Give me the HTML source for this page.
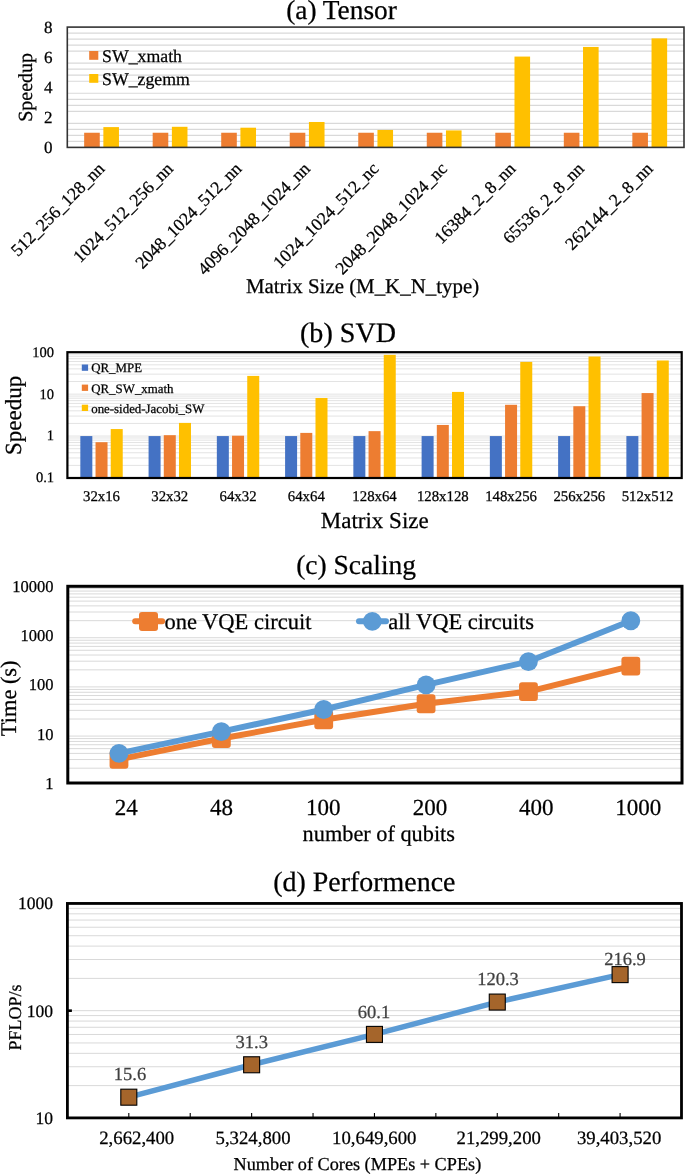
<!DOCTYPE html>
<html><head><meta charset="utf-8"><style>
html,body{margin:0;padding:0;background:#fff;overflow:hidden;width:685px;height:1175px;}
svg{display:block;will-change:transform;}
text{font-family:"Liberation Serif", serif;text-rendering:geometricPrecision;stroke-width:0.25px;}
</style></head><body>
<svg width="685" height="1175" viewBox="0 0 685 1175">
<rect width="685" height="1175" fill="#fff"/>
<line x1="67.30" y1="141.38" x2="684.00" y2="141.38" stroke="#D9D9D9" stroke-width="1.2" />
<line x1="67.30" y1="135.37" x2="684.00" y2="135.37" stroke="#D9D9D9" stroke-width="1.2" />
<line x1="67.30" y1="129.35" x2="684.00" y2="129.35" stroke="#D9D9D9" stroke-width="1.2" />
<line x1="67.30" y1="123.34" x2="684.00" y2="123.34" stroke="#D9D9D9" stroke-width="1.2" />
<line x1="67.30" y1="111.31" x2="684.00" y2="111.31" stroke="#D9D9D9" stroke-width="1.2" />
<line x1="67.30" y1="105.29" x2="684.00" y2="105.29" stroke="#D9D9D9" stroke-width="1.2" />
<line x1="67.30" y1="99.28" x2="684.00" y2="99.28" stroke="#D9D9D9" stroke-width="1.2" />
<line x1="67.30" y1="93.27" x2="684.00" y2="93.27" stroke="#D9D9D9" stroke-width="1.2" />
<line x1="67.30" y1="81.23" x2="684.00" y2="81.23" stroke="#D9D9D9" stroke-width="1.2" />
<line x1="67.30" y1="75.22" x2="684.00" y2="75.22" stroke="#D9D9D9" stroke-width="1.2" />
<line x1="67.30" y1="69.20" x2="684.00" y2="69.20" stroke="#D9D9D9" stroke-width="1.2" />
<line x1="67.30" y1="63.19" x2="684.00" y2="63.19" stroke="#D9D9D9" stroke-width="1.2" />
<line x1="67.30" y1="51.16" x2="684.00" y2="51.16" stroke="#D9D9D9" stroke-width="1.2" />
<line x1="67.30" y1="45.14" x2="684.00" y2="45.14" stroke="#D9D9D9" stroke-width="1.2" />
<line x1="67.30" y1="39.13" x2="684.00" y2="39.13" stroke="#D9D9D9" stroke-width="1.2" />
<line x1="67.30" y1="33.11" x2="684.00" y2="33.11" stroke="#D9D9D9" stroke-width="1.2" />
<rect x="84.16" y="132.74" width="15.60" height="14.66" fill="#ED7D31" />
<rect x="103.36" y="127.10" width="15.60" height="20.30" fill="#FFC000" />
<rect x="152.68" y="132.74" width="15.60" height="14.66" fill="#ED7D31" />
<rect x="171.88" y="126.80" width="15.60" height="20.60" fill="#FFC000" />
<rect x="221.21" y="132.74" width="15.60" height="14.66" fill="#ED7D31" />
<rect x="240.41" y="127.70" width="15.60" height="19.70" fill="#FFC000" />
<rect x="289.73" y="132.74" width="15.60" height="14.66" fill="#ED7D31" />
<rect x="308.93" y="121.99" width="15.60" height="25.41" fill="#FFC000" />
<rect x="358.25" y="132.74" width="15.60" height="14.66" fill="#ED7D31" />
<rect x="377.45" y="129.96" width="15.60" height="17.44" fill="#FFC000" />
<rect x="426.77" y="132.74" width="15.60" height="14.66" fill="#ED7D31" />
<rect x="445.97" y="130.41" width="15.60" height="16.99" fill="#FFC000" />
<rect x="495.29" y="132.74" width="15.60" height="14.66" fill="#ED7D31" />
<rect x="514.49" y="56.57" width="15.60" height="90.83" fill="#FFC000" />
<rect x="563.82" y="132.74" width="15.60" height="14.66" fill="#ED7D31" />
<rect x="583.02" y="46.95" width="15.60" height="100.45" fill="#FFC000" />
<rect x="632.34" y="132.74" width="15.60" height="14.66" fill="#ED7D31" />
<rect x="651.54" y="38.38" width="15.60" height="109.02" fill="#FFC000" />
<rect x="67.30" y="27.10" width="616.70" height="120.30" fill="none" stroke="#333" stroke-width="1.6"/>
<text x="52.50" y="153.40" font-size="17" text-anchor="end" fill="#000" stroke="#000" >0</text>
<text x="52.50" y="123.33" font-size="17" text-anchor="end" fill="#000" stroke="#000" >2</text>
<text x="52.50" y="93.25" font-size="17" text-anchor="end" fill="#000" stroke="#000" >4</text>
<text x="52.50" y="63.17" font-size="17" text-anchor="end" fill="#000" stroke="#000" >6</text>
<text x="52.50" y="33.10" font-size="17" text-anchor="end" fill="#000" stroke="#000" >8</text>
<text x="0.00" y="0.00" font-size="20" text-anchor="middle" fill="#000" stroke="#000" transform="translate(31.6,87.4) rotate(-90)">Speedup</text>
<rect x="89.20" y="51.00" width="9.10" height="8.80" fill="#ED7D31" />
<text x="102.00" y="61.50" font-size="17.8" text-anchor="start" fill="#000" stroke="#000" >SW_xmath</text>
<rect x="89.20" y="74.00" width="9.10" height="8.80" fill="#FFC000" />
<text x="102.00" y="84.50" font-size="17.8" text-anchor="start" fill="#000" stroke="#000" >SW_zgemm</text>
<text x="0.00" y="0.00" font-size="17.7" text-anchor="end" fill="#000" stroke="#000" transform="translate(105.46,169.8) rotate(-45)">512_256_128_nn</text>
<text x="0.00" y="0.00" font-size="17.7" text-anchor="end" fill="#000" stroke="#000" transform="translate(173.98,169.8) rotate(-45)">1024_512_256_nn</text>
<text x="0.00" y="0.00" font-size="17.7" text-anchor="end" fill="#000" stroke="#000" transform="translate(242.51,169.8) rotate(-45)">2048_1024_512_nn</text>
<text x="0.00" y="0.00" font-size="17.7" text-anchor="end" fill="#000" stroke="#000" transform="translate(311.03,169.8) rotate(-45)">4096_2048_1024_nn</text>
<text x="0.00" y="0.00" font-size="17.7" text-anchor="end" fill="#000" stroke="#000" transform="translate(379.55,169.8) rotate(-45)">1024_1024_512_nc</text>
<text x="0.00" y="0.00" font-size="17.7" text-anchor="end" fill="#000" stroke="#000" transform="translate(448.07,169.8) rotate(-45)">2048_2048_1024_nc</text>
<text x="0.00" y="0.00" font-size="17.7" text-anchor="end" fill="#000" stroke="#000" transform="translate(516.59,169.8) rotate(-45)">16384_2_8_nn</text>
<text x="0.00" y="0.00" font-size="17.7" text-anchor="end" fill="#000" stroke="#000" transform="translate(585.12,169.8) rotate(-45)">65536_2_8_nn</text>
<text x="0.00" y="0.00" font-size="17.7" text-anchor="end" fill="#000" stroke="#000" transform="translate(653.64,169.8) rotate(-45)">262144_2_8_nn</text>
<text x="362.50" y="293.10" font-size="20.9" text-anchor="middle" fill="#000" stroke="#000" >Matrix Size (M_K_N_type)</text>
<text x="341.50" y="18.80" font-size="27.35" text-anchor="middle" fill="#000" stroke="#000" >(a) Tensor</text>
<line x1="67.40" y1="465.38" x2="681.70" y2="465.38" stroke="#E0E0E0" stroke-width="0.9" />
<line x1="67.40" y1="457.99" x2="681.70" y2="457.99" stroke="#E0E0E0" stroke-width="0.9" />
<line x1="67.40" y1="452.75" x2="681.70" y2="452.75" stroke="#E0E0E0" stroke-width="0.9" />
<line x1="67.40" y1="448.69" x2="681.70" y2="448.69" stroke="#E0E0E0" stroke-width="0.9" />
<line x1="67.40" y1="445.37" x2="681.70" y2="445.37" stroke="#E0E0E0" stroke-width="0.9" />
<line x1="67.40" y1="442.56" x2="681.70" y2="442.56" stroke="#E0E0E0" stroke-width="0.9" />
<line x1="67.40" y1="440.13" x2="681.70" y2="440.13" stroke="#E0E0E0" stroke-width="0.9" />
<line x1="67.40" y1="437.99" x2="681.70" y2="437.99" stroke="#E0E0E0" stroke-width="0.9" />
<line x1="67.40" y1="436.07" x2="681.70" y2="436.07" stroke="#E0E0E0" stroke-width="0.9" />
<line x1="67.40" y1="423.44" x2="681.70" y2="423.44" stroke="#E0E0E0" stroke-width="0.9" />
<line x1="67.40" y1="416.06" x2="681.70" y2="416.06" stroke="#E0E0E0" stroke-width="0.9" />
<line x1="67.40" y1="410.82" x2="681.70" y2="410.82" stroke="#E0E0E0" stroke-width="0.9" />
<line x1="67.40" y1="406.76" x2="681.70" y2="406.76" stroke="#E0E0E0" stroke-width="0.9" />
<line x1="67.40" y1="403.44" x2="681.70" y2="403.44" stroke="#E0E0E0" stroke-width="0.9" />
<line x1="67.40" y1="400.63" x2="681.70" y2="400.63" stroke="#E0E0E0" stroke-width="0.9" />
<line x1="67.40" y1="398.20" x2="681.70" y2="398.20" stroke="#E0E0E0" stroke-width="0.9" />
<line x1="67.40" y1="396.05" x2="681.70" y2="396.05" stroke="#E0E0E0" stroke-width="0.9" />
<line x1="67.40" y1="394.13" x2="681.70" y2="394.13" stroke="#E0E0E0" stroke-width="0.9" />
<line x1="67.40" y1="381.51" x2="681.70" y2="381.51" stroke="#E0E0E0" stroke-width="0.9" />
<line x1="67.40" y1="374.13" x2="681.70" y2="374.13" stroke="#E0E0E0" stroke-width="0.9" />
<line x1="67.40" y1="368.89" x2="681.70" y2="368.89" stroke="#E0E0E0" stroke-width="0.9" />
<line x1="67.40" y1="364.82" x2="681.70" y2="364.82" stroke="#E0E0E0" stroke-width="0.9" />
<line x1="67.40" y1="361.50" x2="681.70" y2="361.50" stroke="#E0E0E0" stroke-width="0.9" />
<line x1="67.40" y1="358.70" x2="681.70" y2="358.70" stroke="#E0E0E0" stroke-width="0.9" />
<line x1="67.40" y1="356.26" x2="681.70" y2="356.26" stroke="#E0E0E0" stroke-width="0.9" />
<line x1="67.40" y1="354.12" x2="681.70" y2="354.12" stroke="#E0E0E0" stroke-width="0.9" />
<rect x="80.33" y="436.07" width="12.00" height="41.93" fill="#4472C4" />
<rect x="95.53" y="442.20" width="12.00" height="35.80" fill="#ED7D31" />
<rect x="110.73" y="429.05" width="12.00" height="48.95" fill="#FFC000" />
<rect x="148.58" y="436.07" width="12.00" height="41.93" fill="#4472C4" />
<rect x="163.78" y="435.18" width="12.00" height="42.82" fill="#ED7D31" />
<rect x="178.98" y="422.91" width="12.00" height="55.09" fill="#FFC000" />
<rect x="216.84" y="436.07" width="12.00" height="41.93" fill="#4472C4" />
<rect x="232.04" y="435.71" width="12.00" height="42.29" fill="#ED7D31" />
<rect x="247.24" y="375.91" width="12.00" height="102.09" fill="#FFC000" />
<rect x="285.09" y="436.07" width="12.00" height="41.93" fill="#4472C4" />
<rect x="300.29" y="432.90" width="12.00" height="45.10" fill="#ED7D31" />
<rect x="315.49" y="397.99" width="12.00" height="80.01" fill="#FFC000" />
<rect x="353.35" y="436.07" width="12.00" height="41.93" fill="#4472C4" />
<rect x="368.55" y="431.15" width="12.00" height="46.85" fill="#ED7D31" />
<rect x="383.75" y="354.88" width="12.00" height="123.12" fill="#FFC000" />
<rect x="421.61" y="436.07" width="12.00" height="41.93" fill="#4472C4" />
<rect x="436.81" y="424.96" width="12.00" height="53.04" fill="#ED7D31" />
<rect x="452.01" y="391.91" width="12.00" height="86.09" fill="#FFC000" />
<rect x="489.86" y="436.07" width="12.00" height="41.93" fill="#4472C4" />
<rect x="505.06" y="404.79" width="12.00" height="73.21" fill="#ED7D31" />
<rect x="520.26" y="361.90" width="12.00" height="116.10" fill="#FFC000" />
<rect x="558.12" y="436.07" width="12.00" height="41.93" fill="#4472C4" />
<rect x="573.32" y="406.22" width="12.00" height="71.78" fill="#ED7D31" />
<rect x="588.52" y="356.49" width="12.00" height="121.51" fill="#FFC000" />
<rect x="626.37" y="436.07" width="12.00" height="41.93" fill="#4472C4" />
<rect x="641.57" y="393.07" width="12.00" height="84.93" fill="#ED7D31" />
<rect x="656.77" y="360.50" width="12.00" height="117.50" fill="#FFC000" />
<rect x="67.40" y="352.20" width="614.30" height="125.80" fill="none" stroke="#000" stroke-width="2.2"/>
<text x="54.00" y="356.60" font-size="14.5" text-anchor="end" fill="#000" stroke="#000" >100</text>
<text x="54.00" y="398.53" font-size="14.5" text-anchor="end" fill="#000" stroke="#000" >10</text>
<text x="54.00" y="440.47" font-size="14.5" text-anchor="end" fill="#000" stroke="#000" >1</text>
<text x="54.00" y="482.40" font-size="14.5" text-anchor="end" fill="#000" stroke="#000" >0.1</text>
<text x="0.00" y="0.00" font-size="23" text-anchor="middle" fill="#000" stroke="#000" transform="translate(20.6,415.4) rotate(-90)">Speedup</text>
<rect x="81.80" y="364.50" width="6.30" height="6.30" fill="#4472C4" />
<text x="91.20" y="372.40" font-size="12.9" text-anchor="start" fill="#000" stroke="#000" >QR_MPE</text>
<rect x="81.80" y="384.60" width="6.30" height="6.30" fill="#ED7D31" />
<text x="91.20" y="392.50" font-size="12.9" text-anchor="start" fill="#000" stroke="#000" >QR_SW_xmath</text>
<rect x="81.80" y="404.70" width="6.30" height="6.30" fill="#FFC000" />
<text x="91.20" y="412.60" font-size="12.9" text-anchor="start" fill="#000" stroke="#000" >one-sided-Jacobi_SW</text>
<text x="101.53" y="501.00" font-size="14.8" text-anchor="middle" fill="#000" stroke="#000" >32x16</text>
<text x="169.78" y="501.00" font-size="14.8" text-anchor="middle" fill="#000" stroke="#000" >32x32</text>
<text x="238.04" y="501.00" font-size="14.8" text-anchor="middle" fill="#000" stroke="#000" >64x32</text>
<text x="306.29" y="501.00" font-size="14.8" text-anchor="middle" fill="#000" stroke="#000" >64x64</text>
<text x="374.55" y="501.00" font-size="14.8" text-anchor="middle" fill="#000" stroke="#000" >128x64</text>
<text x="442.81" y="501.00" font-size="14.8" text-anchor="middle" fill="#000" stroke="#000" >128x128</text>
<text x="511.06" y="501.00" font-size="14.8" text-anchor="middle" fill="#000" stroke="#000" >148x256</text>
<text x="579.32" y="501.00" font-size="14.8" text-anchor="middle" fill="#000" stroke="#000" >256x256</text>
<text x="647.57" y="501.00" font-size="14.8" text-anchor="middle" fill="#000" stroke="#000" >512x512</text>
<text x="374.75" y="528.00" font-size="23" text-anchor="middle" fill="#000" stroke="#000" >Matrix Size</text>
<text x="348.00" y="342.00" font-size="28.1" text-anchor="middle" fill="#000" stroke="#000" >(b) SVD</text>
<line x1="67.80" y1="768.20" x2="682.00" y2="768.20" stroke="#D9D9D9" stroke-width="1.0" />
<line x1="67.80" y1="759.54" x2="682.00" y2="759.54" stroke="#D9D9D9" stroke-width="1.0" />
<line x1="67.80" y1="753.39" x2="682.00" y2="753.39" stroke="#D9D9D9" stroke-width="1.0" />
<line x1="67.80" y1="748.63" x2="682.00" y2="748.63" stroke="#D9D9D9" stroke-width="1.0" />
<line x1="67.80" y1="744.73" x2="682.00" y2="744.73" stroke="#D9D9D9" stroke-width="1.0" />
<line x1="67.80" y1="741.44" x2="682.00" y2="741.44" stroke="#D9D9D9" stroke-width="1.0" />
<line x1="67.80" y1="738.59" x2="682.00" y2="738.59" stroke="#D9D9D9" stroke-width="1.0" />
<line x1="67.80" y1="736.08" x2="682.00" y2="736.08" stroke="#D9D9D9" stroke-width="1.0" />
<line x1="67.80" y1="719.02" x2="682.00" y2="719.02" stroke="#D9D9D9" stroke-width="1.0" />
<line x1="67.80" y1="710.36" x2="682.00" y2="710.36" stroke="#D9D9D9" stroke-width="1.0" />
<line x1="67.80" y1="704.22" x2="682.00" y2="704.22" stroke="#D9D9D9" stroke-width="1.0" />
<line x1="67.80" y1="699.45" x2="682.00" y2="699.45" stroke="#D9D9D9" stroke-width="1.0" />
<line x1="67.80" y1="695.56" x2="682.00" y2="695.56" stroke="#D9D9D9" stroke-width="1.0" />
<line x1="67.80" y1="692.27" x2="682.00" y2="692.27" stroke="#D9D9D9" stroke-width="1.0" />
<line x1="67.80" y1="689.42" x2="682.00" y2="689.42" stroke="#D9D9D9" stroke-width="1.0" />
<line x1="67.80" y1="686.90" x2="682.00" y2="686.90" stroke="#D9D9D9" stroke-width="1.0" />
<line x1="67.80" y1="669.85" x2="682.00" y2="669.85" stroke="#D9D9D9" stroke-width="1.0" />
<line x1="67.80" y1="661.19" x2="682.00" y2="661.19" stroke="#D9D9D9" stroke-width="1.0" />
<line x1="67.80" y1="655.04" x2="682.00" y2="655.04" stroke="#D9D9D9" stroke-width="1.0" />
<line x1="67.80" y1="650.28" x2="682.00" y2="650.28" stroke="#D9D9D9" stroke-width="1.0" />
<line x1="67.80" y1="646.38" x2="682.00" y2="646.38" stroke="#D9D9D9" stroke-width="1.0" />
<line x1="67.80" y1="643.09" x2="682.00" y2="643.09" stroke="#D9D9D9" stroke-width="1.0" />
<line x1="67.80" y1="640.24" x2="682.00" y2="640.24" stroke="#D9D9D9" stroke-width="1.0" />
<line x1="67.80" y1="637.73" x2="682.00" y2="637.73" stroke="#D9D9D9" stroke-width="1.0" />
<line x1="67.80" y1="620.67" x2="682.00" y2="620.67" stroke="#D9D9D9" stroke-width="1.0" />
<line x1="67.80" y1="612.01" x2="682.00" y2="612.01" stroke="#D9D9D9" stroke-width="1.0" />
<line x1="67.80" y1="605.87" x2="682.00" y2="605.87" stroke="#D9D9D9" stroke-width="1.0" />
<line x1="67.80" y1="601.10" x2="682.00" y2="601.10" stroke="#D9D9D9" stroke-width="1.0" />
<line x1="67.80" y1="597.21" x2="682.00" y2="597.21" stroke="#D9D9D9" stroke-width="1.0" />
<line x1="67.80" y1="593.92" x2="682.00" y2="593.92" stroke="#D9D9D9" stroke-width="1.0" />
<line x1="67.80" y1="591.07" x2="682.00" y2="591.07" stroke="#D9D9D9" stroke-width="1.0" />
<line x1="67.80" y1="588.55" x2="682.00" y2="588.55" stroke="#D9D9D9" stroke-width="1.0" />
<polyline points="118.98,759.33 221.35,738.54 323.72,719.78 426.08,703.74 528.45,691.55 630.82,666.06" fill="none" stroke="#ED7D31" stroke-width="6" stroke-linejoin="round" stroke-linecap="round"/>
<rect x="109.58" y="749.93" width="18.8" height="18.8" rx="3" fill="#ED7D31"/>
<rect x="211.95" y="729.14" width="18.8" height="18.8" rx="3" fill="#ED7D31"/>
<rect x="314.32" y="710.38" width="18.8" height="18.8" rx="3" fill="#ED7D31"/>
<rect x="416.68" y="694.34" width="18.8" height="18.8" rx="3" fill="#ED7D31"/>
<rect x="519.05" y="682.15" width="18.8" height="18.8" rx="3" fill="#ED7D31"/>
<rect x="621.42" y="656.66" width="18.8" height="18.8" rx="3" fill="#ED7D31"/>
<polyline points="118.98,753.39 221.35,731.63 323.72,709.52 426.08,684.95 528.45,661.56 630.82,620.73" fill="none" stroke="#5B9BD5" stroke-width="6" stroke-linejoin="round" stroke-linecap="round"/>
<circle cx="118.98" cy="753.39" r="9.4" fill="#5B9BD5"/>
<circle cx="221.35" cy="731.63" r="9.4" fill="#5B9BD5"/>
<circle cx="323.72" cy="709.52" r="9.4" fill="#5B9BD5"/>
<circle cx="426.08" cy="684.95" r="9.4" fill="#5B9BD5"/>
<circle cx="528.45" cy="661.56" r="9.4" fill="#5B9BD5"/>
<circle cx="630.82" cy="620.73" r="9.4" fill="#5B9BD5"/>
<rect x="67.80" y="586.30" width="614.20" height="196.70" fill="none" stroke="#000" stroke-width="3"/>
<text x="53.50" y="788.70" font-size="16.5" text-anchor="end" fill="#000" stroke="#000" >1</text>
<text x="53.50" y="739.53" font-size="16.5" text-anchor="end" fill="#000" stroke="#000" >10</text>
<text x="53.50" y="690.35" font-size="16.5" text-anchor="end" fill="#000" stroke="#000" >100</text>
<text x="53.50" y="641.17" font-size="16.5" text-anchor="end" fill="#000" stroke="#000" >1000</text>
<text x="53.50" y="592.00" font-size="16.5" text-anchor="end" fill="#000" stroke="#000" >10000</text>
<text x="0.00" y="0.00" font-size="22.4" text-anchor="middle" fill="#000" stroke="#000" transform="translate(16.2,698.3) rotate(-90)">Time (s)</text>
<line x1="135.20" y1="621.20" x2="162.10" y2="621.20" stroke="#ED7D31" stroke-width="6" stroke-linecap="round"/>
<rect x="139" y="612" width="19" height="19" rx="3" fill="#ED7D31"/>
<text x="164.40" y="628.50" font-size="22.5" text-anchor="start" fill="#000" stroke="#000" >one VQE circuit</text>
<line x1="359.00" y1="621.20" x2="386.00" y2="621.20" stroke="#5B9BD5" stroke-width="6" stroke-linecap="round"/>
<circle cx="372.3" cy="621.4" r="9.3" fill="#5B9BD5"/>
<text x="388.30" y="628.50" font-size="22.5" text-anchor="start" fill="#000" stroke="#000" >all VQE circuits</text>
<text x="126.20" y="815.00" font-size="23" text-anchor="middle" fill="#000" stroke="#000" >24</text>
<text x="221.40" y="815.00" font-size="23" text-anchor="middle" fill="#000" stroke="#000" >48</text>
<text x="323.20" y="815.00" font-size="23" text-anchor="middle" fill="#000" stroke="#000" >100</text>
<text x="429.90" y="815.00" font-size="23" text-anchor="middle" fill="#000" stroke="#000" >200</text>
<text x="536.30" y="815.00" font-size="23" text-anchor="middle" fill="#000" stroke="#000" >400</text>
<text x="638.30" y="815.00" font-size="23" text-anchor="middle" fill="#000" stroke="#000" >1000</text>
<text x="378.80" y="841.30" font-size="22.3" text-anchor="middle" fill="#000" stroke="#000" >number of qubits</text>
<text x="356.10" y="574.20" font-size="27.5" text-anchor="middle" fill="#000" stroke="#000" >(c) Scaling</text>
<line x1="67.40" y1="1085.62" x2="681.50" y2="1085.62" stroke="#D9D9D9" stroke-width="1.0" />
<line x1="67.40" y1="1066.74" x2="681.50" y2="1066.74" stroke="#D9D9D9" stroke-width="1.0" />
<line x1="67.40" y1="1053.34" x2="681.50" y2="1053.34" stroke="#D9D9D9" stroke-width="1.0" />
<line x1="67.40" y1="1042.95" x2="681.50" y2="1042.95" stroke="#D9D9D9" stroke-width="1.0" />
<line x1="67.40" y1="1034.46" x2="681.50" y2="1034.46" stroke="#D9D9D9" stroke-width="1.0" />
<line x1="67.40" y1="1027.28" x2="681.50" y2="1027.28" stroke="#D9D9D9" stroke-width="1.0" />
<line x1="67.40" y1="1021.07" x2="681.50" y2="1021.07" stroke="#D9D9D9" stroke-width="1.0" />
<line x1="67.40" y1="1015.58" x2="681.50" y2="1015.58" stroke="#D9D9D9" stroke-width="1.0" />
<line x1="67.40" y1="1010.68" x2="681.50" y2="1010.68" stroke="#D9D9D9" stroke-width="1.0" />
<line x1="67.40" y1="978.40" x2="681.50" y2="978.40" stroke="#D9D9D9" stroke-width="1.0" />
<line x1="67.40" y1="959.52" x2="681.50" y2="959.52" stroke="#D9D9D9" stroke-width="1.0" />
<line x1="67.40" y1="946.12" x2="681.50" y2="946.12" stroke="#D9D9D9" stroke-width="1.0" />
<line x1="67.40" y1="935.73" x2="681.50" y2="935.73" stroke="#D9D9D9" stroke-width="1.0" />
<line x1="67.40" y1="927.24" x2="681.50" y2="927.24" stroke="#D9D9D9" stroke-width="1.0" />
<line x1="67.40" y1="920.06" x2="681.50" y2="920.06" stroke="#D9D9D9" stroke-width="1.0" />
<line x1="67.40" y1="913.84" x2="681.50" y2="913.84" stroke="#D9D9D9" stroke-width="1.0" />
<line x1="67.40" y1="908.36" x2="681.50" y2="908.36" stroke="#D9D9D9" stroke-width="1.0" />
<polyline points="128.81,1097.19 251.63,1064.77 374.45,1034.39 497.27,1002.07 620.09,974.62" fill="none" stroke="#5B9BD5" stroke-width="5.5" stroke-linejoin="round" stroke-linecap="round"/>
<rect x="120.81" y="1089.19" width="16" height="16" fill="#A5652B" stroke="#000" stroke-width="1.1"/>
<rect x="243.63" y="1056.77" width="16" height="16" fill="#A5652B" stroke="#000" stroke-width="1.1"/>
<rect x="366.45" y="1026.39" width="16" height="16" fill="#A5652B" stroke="#000" stroke-width="1.1"/>
<rect x="489.27" y="994.07" width="16" height="16" fill="#A5652B" stroke="#000" stroke-width="1.1"/>
<rect x="612.09" y="966.62" width="16" height="16" fill="#A5652B" stroke="#000" stroke-width="1.1"/>
<line x1="128.81" y1="1117.90" x2="128.81" y2="1112.90" stroke="#000" stroke-width="1.1" />
<line x1="190.22" y1="1117.90" x2="190.22" y2="1112.90" stroke="#000" stroke-width="1.1" />
<line x1="251.63" y1="1117.90" x2="251.63" y2="1112.90" stroke="#000" stroke-width="1.1" />
<line x1="313.04" y1="1117.90" x2="313.04" y2="1112.90" stroke="#000" stroke-width="1.1" />
<line x1="374.45" y1="1117.90" x2="374.45" y2="1112.90" stroke="#000" stroke-width="1.1" />
<line x1="435.86" y1="1117.90" x2="435.86" y2="1112.90" stroke="#000" stroke-width="1.1" />
<line x1="497.27" y1="1117.90" x2="497.27" y2="1112.90" stroke="#000" stroke-width="1.1" />
<line x1="558.68" y1="1117.90" x2="558.68" y2="1112.90" stroke="#000" stroke-width="1.1" />
<line x1="620.09" y1="1117.90" x2="620.09" y2="1112.90" stroke="#000" stroke-width="1.1" />
<line x1="67.40" y1="1010.68" x2="71.90" y2="1010.68" stroke="#000" stroke-width="2.6" />
<text x="130.00" y="1080.10" font-size="18.5" text-anchor="middle" fill="#404040" stroke="#404040" >15.6</text>
<text x="251.80" y="1047.80" font-size="18.5" text-anchor="middle" fill="#404040" stroke="#404040" >31.3</text>
<text x="374.00" y="1017.60" font-size="18.5" text-anchor="middle" fill="#404040" stroke="#404040" >60.1</text>
<text x="498.00" y="985.20" font-size="18.5" text-anchor="middle" fill="#404040" stroke="#404040" >120.3</text>
<text x="625.00" y="964.50" font-size="18.5" text-anchor="middle" fill="#404040" stroke="#404040" >216.9</text>
<rect x="67.40" y="903.45" width="614.10" height="214.45" fill="none" stroke="#000" stroke-width="2.8"/>
<text x="53.00" y="1123.90" font-size="17.5" text-anchor="end" fill="#000" stroke="#000" >10</text>
<text x="53.00" y="1016.68" font-size="17.5" text-anchor="end" fill="#000" stroke="#000" >100</text>
<text x="53.00" y="909.45" font-size="17.5" text-anchor="end" fill="#000" stroke="#000" >1000</text>
<text x="0.00" y="0.00" font-size="18" text-anchor="middle" fill="#000" stroke="#000" transform="translate(21.4,1017.4) rotate(-90)">PFLOP/s</text>
<text x="136.70" y="1143.70" font-size="18.75" text-anchor="middle" fill="#000" stroke="#000" >2,662,400</text>
<text x="253.00" y="1143.70" font-size="18.75" text-anchor="middle" fill="#000" stroke="#000" >5,324,800</text>
<text x="374.30" y="1143.70" font-size="18.75" text-anchor="middle" fill="#000" stroke="#000" >10,649,600</text>
<text x="498.70" y="1143.70" font-size="18.75" text-anchor="middle" fill="#000" stroke="#000" >21,299,200</text>
<text x="619.10" y="1143.70" font-size="18.75" text-anchor="middle" fill="#000" stroke="#000" >39,403,520</text>
<text x="357.40" y="1170.30" font-size="18.23" text-anchor="middle" fill="#000" stroke="#000" >Number of Cores (MPEs + CPEs)</text>
<text x="364.35" y="890.50" font-size="27.93" text-anchor="middle" fill="#000" stroke="#000" >(d) Performence</text>
</svg></body></html>
